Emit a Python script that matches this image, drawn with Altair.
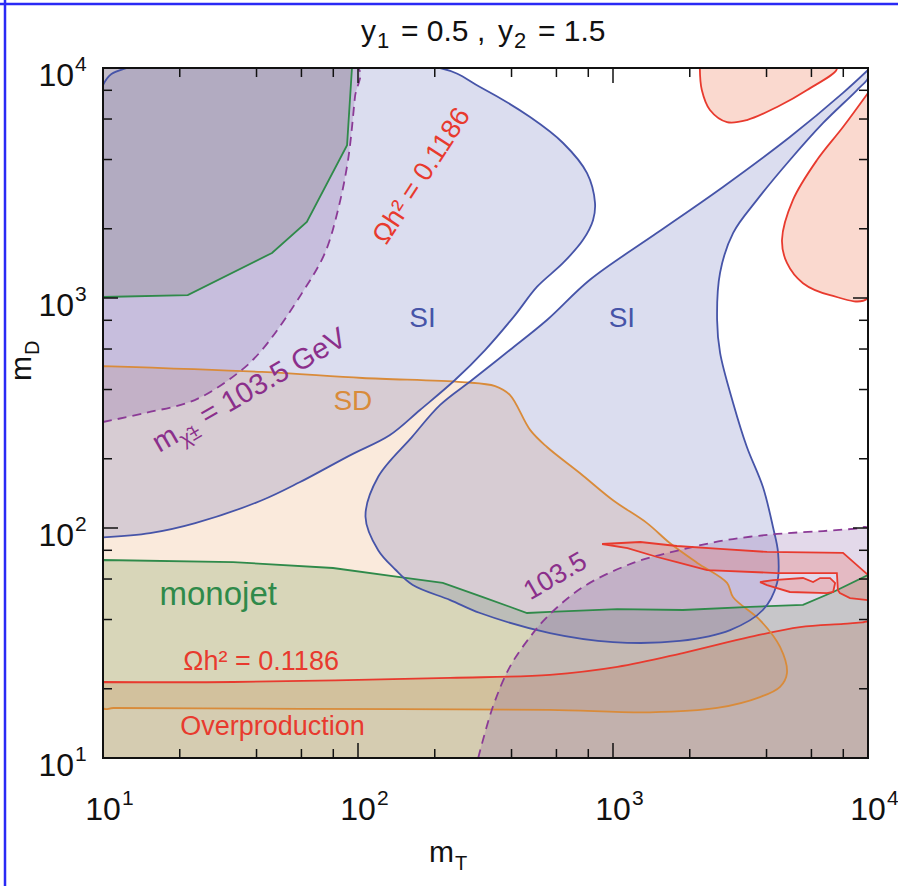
import altair as alt
import pandas as pd

W, H = 765, 690
FONT = "Liberation Sans"

# ---------------- data (m_T, m_D) ----------------
# Spin-independent (SI) excluded regions
si1_mT = [10, 15.3, 23, 42, 59, 93, 133, 175, 240, 315, 413, 504, 637, 763, 835, 850, 791, 637, 473, 301, 210, 12.4, 10]
si1_mD = [91, 95, 105, 132, 158, 207, 253, 326, 440, 594, 843, 1120, 1420, 1790, 2180, 2590, 3490, 4720, 6120, 8270, 10000, 10000, 8430]

si2_mT = [10000, 7980, 4940, 2700, 1490, 812, 551, 394, 280, 210, 163, 120, 107, 120, 140, 164, 230, 301, 566, 1000,
          1830, 2880, 3870, 4400, 4440, 4240, 3870, 3350, 2960, 2630, 2560, 2630, 2960, 3670, 4940, 6670, 9060, 10000]
si2_mD = [9800, 7790, 5010, 3040, 1920, 1200, 802, 594, 440, 343, 249, 167, 112, 80, 66, 56.5, 48.6, 42.7, 34.9, 31.9,
          32.3, 36, 44, 57.7, 78, 101, 151, 225, 349, 577, 802, 1290, 1920, 2670, 3980, 5770, 8020, 9050]

# Spin-dependent (SD) excluded region
sd_mT = [10, 42, 104, 256, 345, 394, 473, 551, 743, 1000, 1360, 1670, 2140, 2800, 2960, 3770, 4520, 4810, 4520, 3770,
         2560, 1400, 566, 146, 40, 11, 10]
sd_mD = [506, 477, 449, 431, 414, 379, 267, 225, 173, 132, 105, 86, 70.5, 57.7, 50, 39.8, 30.4, 23.4, 20.4, 18.4,
         16.5, 15.8, 16.2, 16.3, 16.4, 16.5, 16.5]

# monojet excluded regions
mj_mT = [10, 32.4, 79.8, 146, 215, 309, 460, 566, 1040, 1880, 3450, 5560, 7300, 10000, 10000, 10]
mj_mD = [72.6, 71.1, 67, 61.2, 57.7, 50.1, 42.7, 43.2, 44.4, 44, 45.4, 46.3, 52.7, 62.5, 10, 10]
mjt_mT = [10, 21.5, 46, 63, 90.6, 94.7, 10]
mjt_mD = [1010, 1030, 1570, 2140, 4620, 10000, 10000]

# chargino mass 103.5 GeV regions
ch1_mT = [10, 14.6, 22.9, 33.8, 42, 60.3, 74.2, 83.5, 91.4, 97.3, 100, 10]
ch1_mD = [289, 316, 360, 472, 594, 1050, 1570, 2420, 3980, 7480, 10000, 10000]
ch2_mT = [296, 338, 394, 473, 551, 763, 1200, 1830, 2800, 4400, 6670, 9000, 10000, 10000]
ch2_mD = [10, 16.7, 24.9, 33.6, 41, 55.4, 70.5, 80.2, 88.7, 94.2, 97, 99.3, 100, 10]

# relic density Omega h^2 = 0.1186 contours
op_mT = [10, 32.4, 230, 566, 1040, 1880, 3450, 5410, 8000, 9500, 10000, 10000, 10]
op_mD = [21.4, 21.4, 22.3, 23, 24.9, 28.6, 33.6, 37.1, 38.3, 38.9, 39, 10, 10]
ra_mT = [2190, 2230, 2400, 2800, 3350, 4400, 5770, 7550]
ra_mD = [10000, 8020, 6570, 5820, 5940, 6770, 8020, 10000]
rb_mT = [10000, 7980, 6310, 5080, 4600, 4810, 5560, 7100, 10000]
rb_mD = [7790, 5540, 3980, 2670, 1790, 1420, 1160, 1030, 1000]
rc_mT = [906, 1280, 1780, 2630, 4020, 7980, 10000, 10000, 8500, 7760, 7620, 7550, 4400, 2340, 1780, 1490, 1140]
rc_mD = [85.2, 86.9, 83.5, 81.1, 78.7, 77.9, 62.5, 48.6, 49.6, 52.1, 53.7, 63.7, 63.7, 65.6, 71.1, 74.8, 81.8]
rp_mT = [3770, 4240, 5560, 6090, 6490, 7100, 7430, 7300, 6900, 4940, 4020]
rp_mD = [58.2, 59.4, 60.6, 58.2, 60.6, 60.6, 57.7, 52.7, 52.1, 52.7, 56.5]

# axis ticks
major_ticks = [10, 100, 1000, 10000]
tick_exp = ["1", "2", "3", "4"]
minor_ticks = [20, 40, 60, 80, 200, 400, 600, 800, 2000, 4000, 6000, 8000]

# text annotations
lab_text = ["SI", "SI", "SD", "monojet", "Ωh² = 0.1186", "Overproduction"]
lab_mT = [179, 1084, 95.5, 28.3, 41.7, 46.2]
lab_mD = [750, 750, 326, 46.3, 24.1, 12.6]
rot_text = ["Ωh² = 0.1186", "103.5"]
rot_mT = [178, 595]
rot_mD = [3390, 61.5]
chi_anchor_mT = [16.6]
chi_anchor_mD = [212]
title_parts = ["y", "1", "= 0.5 ,", "y", "2", "= 1.5"]

# ---------------- styles ----------------
BLUE = "#4654a8"
ORANGE = "#d98b3a"
GREEN = "#2f8a4a"
RED = "#e83a2e"
PURPLE = "#8b3a96"
PURPLE_TXT = "#8b2f8b"
INK = "#111"

xs = alt.Scale(type="log", domain=[10, 10000], nice=False)
ys = alt.Scale(type="log", domain=[10, 10000], nice=False)


def X(f):
    return alt.X(f, type="quantitative", scale=xs, axis=None)


def Y(f):
    return alt.Y(f, type="quantitative", scale=ys, axis=None)


def poly_df(mt, md):
    n = len(mt)
    return pd.DataFrame({"mT": list(mt) + [mt[0]], "mD": list(md) + [md[0]], "i": list(range(n + 1))})


SM = "catmull-rom"
LIN = "linear"
regions = [
    # (mT, mD, fill, fillOpacity, stroke, dash, interpolation)
    (op_mT, op_mD, "#e07848", 0.25, RED, None, SM),
    (sd_mT, sd_mD, "#e8a060", 0.22, ORANGE, None, SM),
    (mj_mT, mj_mD, "#609040", 0.22, GREEN, None, LIN),
    (si1_mT, si1_mD, "#5a64b4", 0.22, BLUE, None, SM),
    (si2_mT, si2_mD, "#5a64b4", 0.22, BLUE, None, SM),
    (ch1_mT, ch1_mD, "#8050a0", 0.22, PURPLE, [9, 6], SM),
    (ch2_mT, ch2_mD, "#8050a0", 0.22, PURPLE, [9, 6], SM),
    (mjt_mT, mjt_mD, "#808080", 0.30, GREEN, None, LIN),
    (ra_mT, ra_mD, "#f08060", 0.30, RED, None, SM),
    (rb_mT, rb_mD, "#f08060", 0.30, RED, None, SM),
    (rc_mT, rc_mD, "#e86050", 0.25, RED, None, LIN),
    (rp_mT, rp_mD, "#e86050", 0.25, RED, None, LIN),
]

layers = []
for mt, md, fc, fo, sc, dash, ip in regions:
    layers.append(
        alt.Chart(poly_df(mt, md)).mark_line(fill=fc, fillOpacity=fo, strokeOpacity=0, clip=True, interpolate=ip)
        .encode(x=X("mT"), y=Y("mD"), order=alt.Order("i:Q"))
    )
for mt, md, fc, fo, sc, dash, ip in regions:
    kw = dict(stroke=sc, strokeWidth=1.8, clip=True, interpolate=ip)
    if dash:
        kw["strokeDash"] = dash
    layers.append(
        alt.Chart(poly_df(mt, md)).mark_line(**kw)
        .encode(x=X("mT"), y=Y("mD"), order=alt.Order("i:Q"))
    )

# ticks (inward, on all four sides)
for vals, L in [(major_ticks, 15), (minor_ticks, 9)]:
    tdf = pd.DataFrame({"v": vals})
    base = alt.Chart(tdf).mark_rule(color=INK, strokeWidth=1.5)
    layers += [
        base.encode(x=X("v"), y=alt.value(H), y2=alt.value(H - L)),
        base.encode(x=X("v"), y=alt.value(0), y2=alt.value(L)),
        base.encode(y=Y("v"), x=alt.value(0), x2=alt.value(L)),
        base.encode(y=Y("v"), x=alt.value(W), x2=alt.value(W - L)),
    ]

# frame
dummy = pd.DataFrame({"k": [0]})
layers.append(
    alt.Chart(dummy).mark_rect(fillOpacity=0, stroke=INK, strokeWidth=2)
    .encode(x=alt.value(0), x2=alt.value(W), y=alt.value(0), y2=alt.value(H))
)

# tick labels
lbl = pd.DataFrame({"v": major_ticks, "e": tick_exp})
layers += [
    alt.Chart(lbl).mark_text(text="10", font=FONT, fontSize=32, align="center", baseline="alphabetic", color=INK)
    .encode(x=X("v"), y=alt.value(H + 62)),
    alt.Chart(lbl).mark_text(font=FONT, fontSize=21, align="left", baseline="alphabetic", dx=19, dy=-15, color=INK)
    .encode(x=X("v"), y=alt.value(H + 62), text="e:N"),
    alt.Chart(lbl).mark_text(text="10", font=FONT, fontSize=32, align="right", baseline="alphabetic", dy=18, color=INK)
    .encode(y=Y("v"), x=alt.value(-29)),
    alt.Chart(lbl).mark_text(font=FONT, fontSize=21, align="left", baseline="alphabetic", dy=3, color=INK)
    .encode(y=Y("v"), x=alt.value(-28), text="e:N"),
]

# axis titles
layers += [
    alt.Chart(dummy).mark_text(text="m", font=FONT, fontSize=30, align="left", baseline="alphabetic", color=INK)
    .encode(x=alt.value(326), y=alt.value(H + 104)),
    alt.Chart(dummy).mark_text(text="T", font=FONT, fontSize=20, align="left", baseline="alphabetic", color=INK)
    .encode(x=alt.value(352), y=alt.value(H + 112)),
    alt.Chart(dummy).mark_text(text="m", font=FONT, fontSize=30, align="left", baseline="alphabetic", angle=270, color=INK)
    .encode(x=alt.value(-72), y=alt.value(313)),
    alt.Chart(dummy).mark_text(text="D", font=FONT, fontSize=20, align="left", baseline="alphabetic", angle=270, dx=26, dy=8, color=INK)
    .encode(x=alt.value(-72), y=alt.value(313)),
]

# main title: y_1 = 0.5 , y_2 = 1.5  (subscripts as lowered smaller text)
title_x = [258, 274, 298, 395, 411, 435]
title_dy = [0, 7, 0, 0, 7, 0]
title_fs = [30, 22, 30, 30, 22, 30]
for t, px, dy, fs in zip(title_parts, title_x, title_dy, title_fs):
    layers.append(
        alt.Chart(dummy).mark_text(text=t, font=FONT, fontSize=fs, align="left", baseline="alphabetic", dy=dy, color=INK)
        .encode(x=alt.value(px), y=alt.value(-27))
    )

# blue outer border
layers += [
    alt.Chart(dummy).mark_rule(color="#2a2af5", strokeWidth=2.5)
    .encode(x=alt.value(-103), x2=alt.value(W + 30), y=alt.value(-64)),
    alt.Chart(dummy).mark_rule(color="#2a2af5", strokeWidth=2.5)
    .encode(x=alt.value(-98), y=alt.value(-68), y2=alt.value(H + 128)),
]

# annotations
lab_color = [BLUE, BLUE, ORANGE, GREEN, RED, RED]
lab_size = [28, 28, 28, 33, 27, 27]
for t, mt, md, c, s in zip(lab_text, lab_mT, lab_mD, lab_color, lab_size):
    layers.append(
        alt.Chart(pd.DataFrame({"mT": [mt], "mD": [md], "t": [t]}))
        .mark_text(font=FONT, fontSize=s, color=c, align="center", baseline="alphabetic")
        .encode(x=X("mT"), y=Y("mD"), text="t:N")
    )
rot_color = [RED, PURPLE_TXT]
rot_angle = [303, 330]
rot_size = [27, 27]
for t, mt, md, c, a, s in zip(rot_text, rot_mT, rot_mD, rot_color, rot_angle, rot_size):
    layers.append(
        alt.Chart(pd.DataFrame({"mT": [mt], "mD": [md], "t": [t]}))
        .mark_text(font=FONT, fontSize=s, color=c, align="center", baseline="middle", angle=a)
        .encode(x=X("mT"), y=Y("mD"), text="t:N")
    )
chi_df = pd.DataFrame({"mT": chi_anchor_mT, "mD": chi_anchor_mD})
for txt, size, dx, dy in [("m", 29, 0, 0), ("χ̃±", 20, 25, 7), ("= 103.5 GeV", 29, 55, 0)]:
    layers.append(
        alt.Chart(chi_df).mark_text(text=txt, font=FONT, fontSize=size, color=PURPLE_TXT, align="left",
                                    baseline="alphabetic", angle=330, dx=dx, dy=dy)
        .encode(x=X("mT"), y=Y("mD"))
    )

chart = alt.layer(*layers).properties(
    width=W, height=H,
    padding={"left": 103, "top": 68, "right": 30, "bottom": 128},
    autosize=alt.AutoSizeParams(type="none"),
    background="white",
).configure_view(strokeOpacity=0)

chart.save("out.html", embed_options={"renderer": "svg", "actions": False})
